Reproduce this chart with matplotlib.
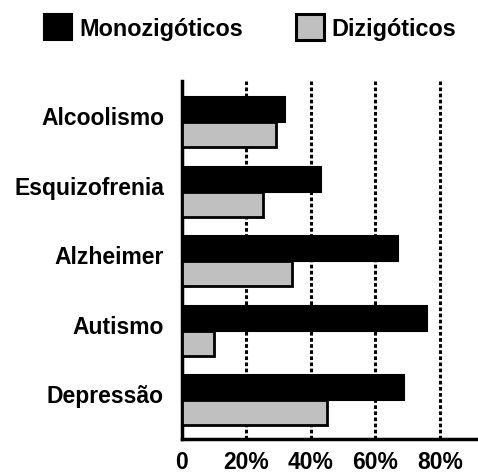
import matplotlib
matplotlib.use("Agg")
import matplotlib.pyplot as plt
import numpy as np
from matplotlib.patches import Patch
from matplotlib import font_manager

# data (percent)
categories = ["Alcoolismo", "Esquizofrenia", "Alzheimer", "Autismo", "Depressão"]
monozigoticos = [32, 43, 67, 76, 69]
dizigoticos = [29, 25, 34, 10, 45]
xticks = [0, 20, 40, 60, 80]
xtick_labels = ["0", "20%", "40%", "60%", "80%"]

names = {f.name for f in font_manager.fontManager.ttflist}
fam = [f for f in ["Liberation Sans Narrow", "Liberation Sans", "DejaVu Sans"] if f in names]
plt.rcParams["font.family"] = fam
plt.rcParams["font.weight"] = "bold"

fig = plt.figure(figsize=(4.78, 4.77), dpi=100)
ax = fig.add_axes([182 / 478, 1 - 440 / 477, 1 - 182 / 478, (440 - 82) / 477])

y = np.arange(len(categories))
h = 0.36
ax.barh(y - h / 2, monozigoticos, height=h, color="black", edgecolor="black",
        linewidth=1.5, zorder=3)
ax.barh(y + h / 2, dizigoticos, height=h, color="#c0c0c0", edgecolor="black",
        linewidth=2, zorder=3)

for xv in xticks[1:]:
    ax.axvline(xv, color="black", linestyle=(0, (1.2, 0.8)), linewidth=2.2, zorder=1)

ax.set_xlim(0, 91.8)
ax.set_ylim(len(categories) - 1 + 0.56, -0.59)

ax.set_yticks(y - 0.1)
ax.set_yticklabels(categories, fontsize=16.5, fontweight="bold")
ax.set_xticks(xticks)
ax.set_xticklabels(xtick_labels, fontsize=16.5, fontweight="bold")
ax.tick_params(axis="both", length=0)
ax.tick_params(axis="y", pad=13)
ax.tick_params(axis="x", pad=8)

for s in ["top", "right"]:
    ax.spines[s].set_visible(False)
for s in ["left", "bottom"]:
    ax.spines[s].set_linewidth(2.5)

handles = [
    Patch(facecolor="black", edgecolor="black", linewidth=1.5, label="Monozigóticos"),
    Patch(facecolor="#c0c0c0", edgecolor="black", linewidth=2.2, label="Dizigóticos"),
]
fig.legend(handles=handles, loc="center", bbox_to_anchor=(250 / 478, 1 - 28 / 477),
           ncol=2, frameon=False, handlelength=1.2, handleheight=1.35,
           handletextpad=0.3, columnspacing=2.3, prop={"weight": "bold", "size": 16.8})

fig.savefig("out.png", dpi=100)
